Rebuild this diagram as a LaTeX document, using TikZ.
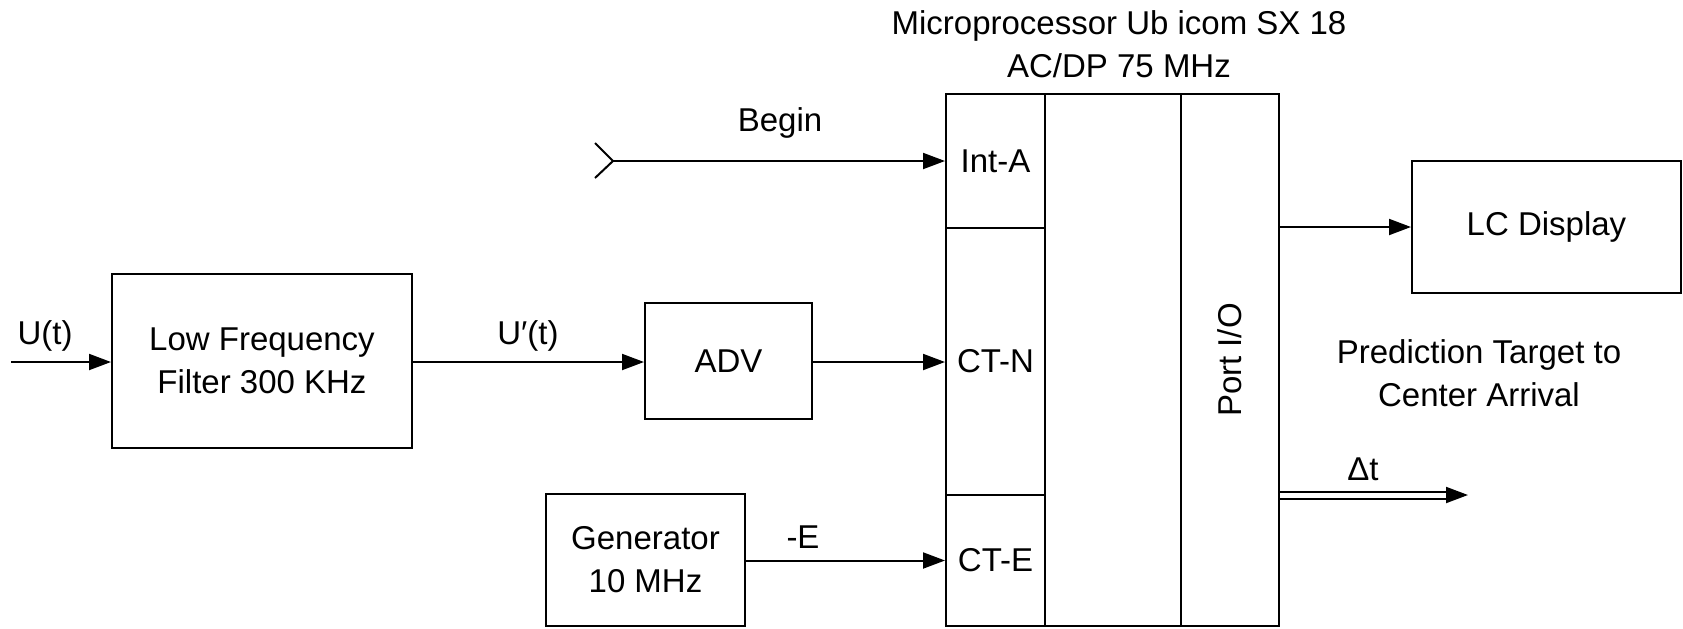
\documentclass[tikz,border=0pt]{standalone}
\usepackage{fontspec}
\setmainfont{Liberation Sans}
\usetikzlibrary{arrows.meta}

\tikzset{
    blk/.style={draw, line width=1pt, inner sep=0pt, align=center},
    sig/.style={line width=1pt, -{Triangle[length=11pt,width=8pt]}},
    lbl/.style={inner sep=0pt, align=center}
}

\begin{document}
\begin{tikzpicture}[x=0.5pt, y=-0.5pt, font=\fontsize{16.5}{21.5}\selectfont]
    \useasboundingbox (0,0) rectangle (1683,628);

    % blocks
    \node[blk, minimum width=150pt, minimum height=87pt] (lff) at (262,361) {Low Frequency\\Filter 300 KHz};
    \node[blk, minimum width=83.5pt, minimum height=58pt] (adv) at (728.5,361) {ADV};
    \node[blk, minimum width=99.5pt, minimum height=66pt] (gen) at (645.5,560) {Generator\\10 MHz};
    \node[blk, minimum width=134.5pt, minimum height=66pt] (lcd) at (1546.5,227) {LC Display};

    % microprocessor
    \node[blk, minimum width=49.5pt, minimum height=67pt] (inta) at (995.5,161) {Int-A};
    \node[blk, minimum width=49.5pt, minimum height=133.5pt] (ctn) at (995.5,361.5) {CT-N};
    \node[blk, minimum width=49.5pt, minimum height=65.5pt] (cte) at (995.5,560.5) {CT-E};
    \node[blk, minimum width=68pt, minimum height=266pt] (core) at (1113,360) {};
    \node[blk, minimum width=49pt, minimum height=266pt] (port) at (1230,360) {\rotatebox{90}{Port I/O}};
    \node[lbl] (mpu) at (1119,44) {Microprocessor Ub icom SX 18\\AC/DP 75 MHz};

    % inputs
    \coordinate (uin) at (11,362);
    \coordinate (bgn) at (613,161);
    \draw[line width=1pt] (595,143) -- (bgn) -- (595,178);
    \draw[sig] (uin) -- (lff.west |- uin);
    \draw[sig] (lff.east |- uin) -- (adv.west |- uin);
    \draw[sig] (adv.east |- uin) -- (ctn.west |- uin);
    \draw[sig] (bgn) -- (inta.west);
    \draw[sig] (gen.east |- cte.west) -- (cte.west);
    \node[lbl] (ut) at (45,336) {U(t)};
    \node[lbl] (upt) at (528,336) {U′(t)};
    \node[lbl] (bl) at (780,123) {Begin};
    \node[lbl] (el) at (803,537) {-E};

    % outputs
    \coordinate (dt) at (1468,495);
    \draw[sig] (port.east |- lcd.west) -- (lcd.west);
    \draw[line width=1pt, double, double distance=2.5pt, -{Triangle[length=11pt,width=8pt]}] (port.east |- dt) -- (dt);
    \node[lbl] (dtl) at (1363,469) {Δt};
    \node[lbl] (pred) at (1479,373) {Prediction Target to\\Center Arrival};
\end{tikzpicture}
\end{document}
